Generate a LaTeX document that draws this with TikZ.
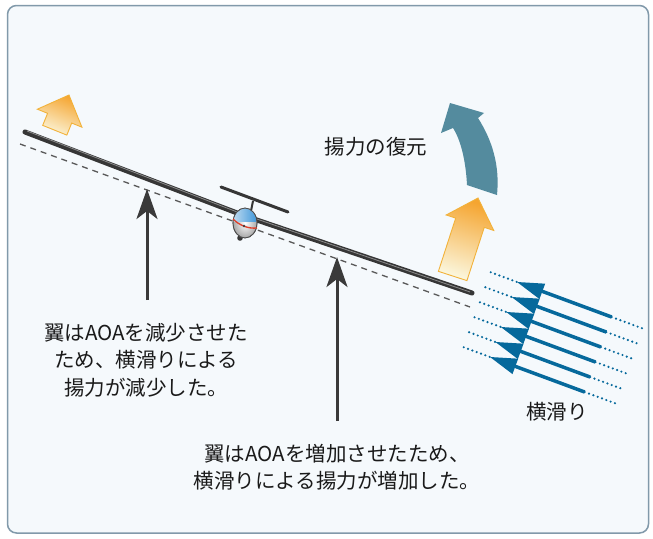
\documentclass[tikz,border=0pt]{standalone}
\usepackage{fontspec}
\newfontfamily\jpfont{Noto Sans CJK JP}
\usetikzlibrary{arrows.meta,calc}
\definecolor{bgfill}{HTML}{F5F9FC}
\definecolor{framec}{HTML}{8199AA}
\definecolor{inkc}{HTML}{1A1A1A}
\definecolor{liftc}{HTML}{3A3A3A}
\definecolor{wingc}{HTML}{363636}
\definecolor{slipc}{HTML}{06699C}
\definecolor{rollc}{HTML}{548B9E}
\definecolor{glowedge}{HTML}{F2B23A}
\definecolor{glowtop}{HTML}{F5A530}
\definecolor{glowmid}{HTML}{FCE83A}
\definecolor{glowbot}{HTML}{FBF6DC}
\definecolor{canopyl}{HTML}{CFE3F2}
\definecolor{canopyr}{HTML}{2F8FD8}
\definecolor{propc}{HTML}{E0402A}

\begin{document}
\begin{tikzpicture}[x=1pt,y=-1pt,
  label/.style={font=\jpfont\fontsize{20.5}{27.5}\selectfont, text=inkc, align=center, inner sep=0pt},
  liftarrow/.style={draw=liftc, line width=3pt, -{Stealth[length=30pt,width=21pt,inset=8pt]}},
  chordline/.style={draw=black!65, line width=1.3pt, dash pattern=on 6pt off 5pt},
  glowarrow/.style={draw=glowedge, line width=0.9pt, top color=glowtop, middle color=glowmid, bottom color=glowbot},
  slipdots/.style={draw=slipc, line width=2.4pt, line cap=round, dash pattern=on 0pt off 4.6pt},
  slipshaft/.style={draw=slipc, line width=3.5pt},
]
\useasboundingbox (0,0) rectangle (653,538);
\fill[white] (0,0) rectangle (653,538);
\draw[framec, fill=bgfill, line width=1.5pt, rounded corners=9pt] (7.5,5.5) rectangle (648.5,533);

% chord reference line (dashed)
\draw[chordline] (20,144) coordinate (chordL) -- (470,307) coordinate (chordR);

% wing with dihedral
\coordinate (wingL) at (25,132);
\coordinate (wingC) at (245,216);
\coordinate (wingR) at (472,293);
\draw[wingc, line width=5pt, line cap=round, line join=round] (wingL) -- (wingC) -- (wingR);
\draw[black!45, line width=0.8pt] ($(wingL)+(2,-1)$) -- ($(wingC)+(0,-1)$) -- ($(wingR)+(-2,-1)$);

% glider seen from the front
\draw[wingc, line width=3pt, line cap=round] (221,187) coordinate (tailL) -- (288,212) coordinate (tailR);
\draw[wingc, line width=2pt] (253,201) -- (251,211);
\fill[wingc] (240,238) circle (2.8);
\shadedraw[inner color=white, outer color=black!35, draw=black!70, line width=0.7pt] (245,223) ellipse [x radius=12, y radius=15];
\begin{scope}
  \clip (245,223) ellipse [x radius=11.5, y radius=14.5];
  \shade[left color=canopyl, right color=canopyr] (230,205) rectangle (260,221);
\end{scope}
\draw[black!70, line width=0.7pt] (245,223) ellipse [x radius=12, y radius=15];
\draw[propc, line width=1.3pt] (233,219) .. controls (239,225) and (248,229) .. (257,228);
\fill[black!75] (244,226) circle (1.3);

% lift arrows under each half of the wing
\coordinate (liftLfoot) at (147,300);
\coordinate (liftLtip) at (147,189);
\coordinate (liftRfoot) at (337,421);
\coordinate (liftRtip) at (337,257);
\draw[liftarrow] (liftLfoot) -- (liftLtip);
\draw[liftarrow] (liftRfoot) -- (liftRtip);

% resulting lift changes
\begin{scope}[shift={(69,95)}, rotate=-22]
  \draw[glowarrow, shading angle=-22] (0,0) -- (24,25) -- (13,25) -- (13,38) -- (-13,38) -- (-13,25) -- (-24,25) -- cycle;
\end{scope}
\begin{scope}[shift={(478,198)}, rotate=-18]
  \draw[glowarrow, shading angle=-18] (0,0) -- (25,26) -- (15,26) -- (15,82) -- (-15,82) -- (-15,26) -- (-25,26) -- cycle;
\end{scope}

% restoring roll arrow
\fill[rollc] (467,185) .. controls (466,165) and (462,142) .. (453,128) -- (441,133) -- (450,103) -- (484,113) -- (478,118) .. controls (492,140) and (500,165) .. (497,195) -- cycle;

% sideslip airflow
\foreach \i in {0,...,5} {
  \begin{scope}[shift={({517-5.4*\i},{282+15*\i})}, rotate=-20.3]
    \draw[slipdots] (-28,0) -- (0,0);
    \draw[slipshaft] (25,0) -- (101,0);
    \draw[slipdots] (101,0) -- (135,0);
    \fill[slipc] (0,0) -- (27,-8.2) -- (27,8.2) -- cycle;
  \end{scope}
}

% labels
\node[label] (restore) at (376,147) {揚力の復元};
\node[label] (slip) at (557,412) {横滑り};
\node[label] (lefttext) at (146,360) {翼はAOAを減少させた\\ため、横滑りによる\\揚力が減少した。};
\node[label] (righttext) at (337,467) {翼はAOAを増加させたため、\\横滑りによる揚力が増加した。};
\end{tikzpicture}
\end{document}
